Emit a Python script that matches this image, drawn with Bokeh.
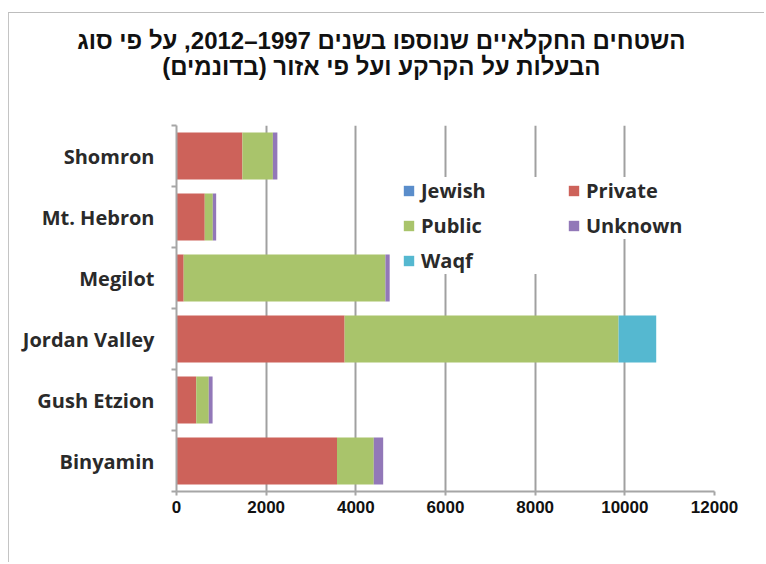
from bokeh.plotting import figure
from bokeh.models import (ColumnDataSource, Range1d, Legend, LegendItem,
                          Title, FixedTicker, NumeralTickFormatter)
from bokeh.embed import file_html
from bokeh.resources import INLINE

# ---- data (dunams) ----
regions = ["Binyamin", "Gush Etzion", "Jordan Valley", "Megilot", "Mt. Hebron", "Shomron"]
jewish  = [0, 0, 0, 0, 0, 0]
private = [3580, 440, 3750, 160, 630, 1470]
public  = [820, 280, 6110, 4500, 180, 680]
waqf    = [0, 0, 840, 0, 0, 0]
unknown = [210, 85, 0, 95, 75, 100]

series = ["Jewish", "Private", "Public", "Waqf", "Unknown"]
colors = {"Jewish": "#5A8DCB", "Private": "#CD625A", "Public": "#A9C46B",
          "Waqf": "#55B8D0", "Unknown": "#9278B8"}
x_ticks = [0, 2000, 4000, 6000, 8000, 10000, 12000]

title_line1 = "השטחים החקלאיים שנוספו בשנים 1997–2012, על פי סוג"
title_line2 = "הבעלות על הקרקע ועל פי אזור (בדונמים)"

# category slots: centre of each band, and band boundaries (for Excel-style ticks)
n = len(regions)
centres = [i + 0.5 for i in range(n)]
bounds = list(range(n + 1))

source = ColumnDataSource(dict(region=regions, pos=centres, Jewish=jewish,
                               Private=private, Public=public, Waqf=waqf,
                               Unknown=unknown))

p = figure(width=756, height=550, y_range=Range1d(0, n),
           x_range=Range1d(0, 12000), output_backend="svg", toolbar_location=None,
           min_border_left=167, min_border_right=51, min_border_bottom=72,
           min_border_top=112)
p.styles = {"margin-left": "8px", "margin-top": "12px",
            "border-left": "1px solid #c4c4c4", "border-top": "1px solid #bdbdbd"}

renderers = p.hbar_stack(series, y="pos", height=0.77, source=source,
                         color=[colors[s] for s in series], line_color=None)
rmap = dict(zip(series, renderers))

# x axis
p.xaxis.ticker = FixedTicker(ticks=x_ticks)
p.xaxis.formatter = NumeralTickFormatter(format="0")
p.xaxis.axis_line_color = "#a6a6a6"
p.xaxis.axis_line_width = 2
p.xaxis.major_tick_line_color = "#a6a6a6"
p.xaxis.major_tick_line_width = 2
p.xaxis.major_tick_out = 4
p.xaxis.major_tick_in = 0
p.xaxis.minor_tick_line_color = None
p.xaxis.major_label_text_font = "Liberation Sans"
p.xaxis.major_label_text_font_style = "bold"
p.xaxis.major_label_text_font_size = "17px"
p.xaxis.major_label_text_color = "#111111"
p.xaxis.major_label_standoff = 5

# y axis: labels at band centres, small ticks at band boundaries
p.yaxis.ticker = FixedTicker(ticks=centres, minor_ticks=bounds)
p.yaxis.major_label_overrides = {c: r for c, r in zip(centres, regions)}
p.yaxis.axis_line_color = "#a6a6a6"
p.yaxis.axis_line_width = 2
p.yaxis.major_tick_line_color = None
p.yaxis.major_tick_out = 0
p.yaxis.major_tick_in = 0
p.yaxis.minor_tick_line_color = "#a6a6a6"
p.yaxis.minor_tick_line_width = 2
p.yaxis.minor_tick_out = 5
p.yaxis.minor_tick_in = 0
p.yaxis.major_label_text_font = "Open Sans"
p.yaxis.major_label_text_font_style = "bold"
p.yaxis.major_label_text_font_size = "20px"
p.yaxis.major_label_text_color = "#2a2a2a"
p.yaxis.major_label_standoff = 17

p.xgrid.ticker = FixedTicker(ticks=x_ticks)
p.xgrid.grid_line_color = "#a0a0a0"
p.xgrid.grid_line_width = 2
p.ygrid.grid_line_color = None
p.outline_line_color = None

# legends (two columns)
def make_legend(names, loc):
    lg = Legend(items=[LegendItem(label=nm, renderers=[rmap[nm]]) for nm in names],
                location=loc, orientation="vertical", margin=0, padding=6,
                spacing=8, glyph_width=13, glyph_height=13, label_height=27,
                label_standoff=6, label_width=140,
                label_text_font="Open Sans", label_text_font_style="bold",
                label_text_font_size="20px",
                label_text_color="#2a2a2a", border_line_color=None,
                background_fill_color="white", background_fill_alpha=1.0)
    p.add_layout(lg, "center")
    return lg

make_legend(["Jewish", "Public", "Waqf"], (226, 217))
make_legend(["Private", "Unknown"], (391, 252))

# title (two lines) with a spacer panel between it and the plot
spacer = Title(text=" ", text_font_size="10px", standoff=33)
t2 = Title(text=title_line2, align="right", vertical_align="bottom", offset=114,
           text_font="Liberation Sans", text_font_size="24px", text_font_style="bold",
           text_color="#111111", standoff=0)
t1 = Title(text=title_line1, align="right", vertical_align="bottom", offset=29,
           text_font="Liberation Sans", text_font_size="24px", text_font_style="bold",
           text_color="#111111", standoff=-6)
p.add_layout(spacer, "above")
p.add_layout(t2, "above")
p.add_layout(t1, "above")

open("out.html", "w").write(file_html(p, INLINE))
